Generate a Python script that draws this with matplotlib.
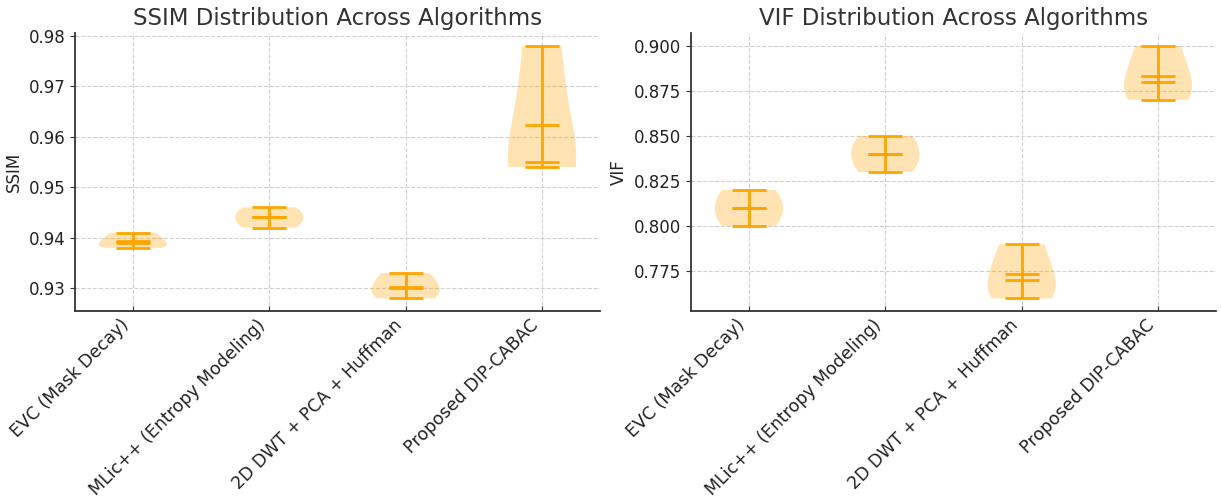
import matplotlib
matplotlib.use("Agg")
import matplotlib.pyplot as plt
from matplotlib.ticker import MultipleLocator

# data (three runs per algorithm)
algorithms = ["EVC (Mask Decay)", "MLic++ (Entropy Modeling)",
              "2D DWT + PCA + Huffman", "Proposed DIP-CABAC"]
ssim_evc = [0.938, 0.939, 0.941]
ssim_mlic = [0.942, 0.944, 0.946]
ssim_dwt = [0.928, 0.930, 0.933]
ssim_dip = [0.954, 0.955, 0.978]
vif_evc = [0.80, 0.81, 0.82]
vif_mlic = [0.83, 0.84, 0.85]
vif_dwt = [0.76, 0.77, 0.79]
vif_dip = [0.87, 0.88, 0.90]

ORANGE = "#ffa500"
plt.rcParams["font.size"] = 12

fig = plt.figure(figsize=(12.21, 4.99), dpi=100)
W, H = 1221, 499
ax1 = fig.add_axes([75 / W, (H - 311) / H, 525 / W, 278 / H])
ax2 = fig.add_axes([691 / W, (H - 311) / H, 525 / W, 278 / H])

panels = [
    (ax1, [ssim_evc, ssim_mlic, ssim_dwt, ssim_dip], "SSIM", 0.01),
    (ax2, [vif_evc, vif_mlic, vif_dwt, vif_dip], "VIF", 0.025),
]
for ax, data, name, step in panels:
    parts = ax.violinplot(data, showmeans=True, showmedians=True)
    for b in parts["bodies"]:
        b.set_facecolor(ORANGE)
        b.set_edgecolor("none")
        b.set_alpha(0.3)
    for k in ("cmins", "cmaxes", "cbars", "cmeans", "cmedians"):
        parts[k].set_color(ORANGE)
        parts[k].set_linewidth(2)
    ax.yaxis.set_major_locator(MultipleLocator(step))
    ax.set_xticks(range(1, len(algorithms) + 1))
    ax.set_xticklabels(algorithms, rotation=45, ha="right", fontsize=12.5)
    ax.set_title(f"{name} Distribution Across Algorithms", fontsize=16.5, color="#333333")
    ax.set_ylabel(name, color="#222222")
    ax.grid(True, linestyle="--", color="#d0d0d0", linewidth=0.8)
    ax.set_axisbelow(True)
    for s in ("top", "right"):
        ax.spines[s].set_visible(False)
    for s in ("left", "bottom"):
        ax.spines[s].set_color("#333333")
        ax.spines[s].set_linewidth(1.3)
    ax.tick_params(axis="x", direction="in", colors="#333333", labelcolor="#222222")
    ax.tick_params(axis="y", colors="#333333", labelcolor="#222222")

fig.savefig("out.png", dpi=100, facecolor="white")
